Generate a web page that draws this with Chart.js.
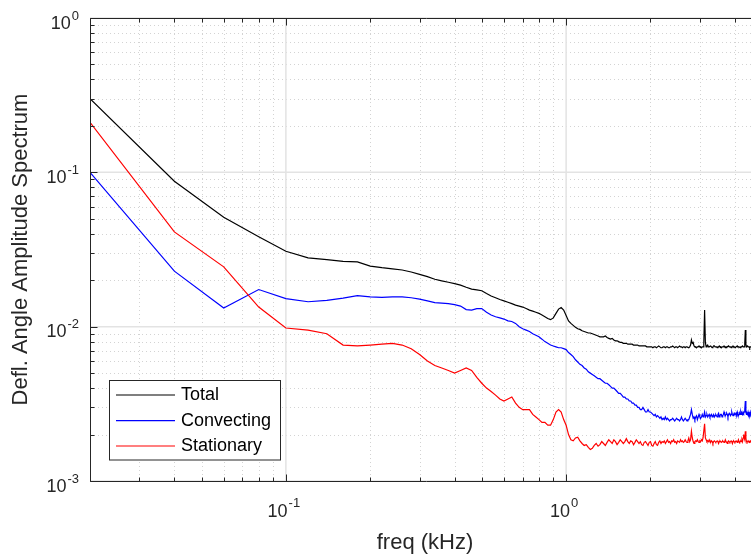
<!DOCTYPE html>
<html>
<head>
<meta charset="utf-8">
<script src="https://cdn.jsdelivr.net/npm/chart.js@4.4.1/dist/chart.umd.min.js"></script>
<style>
  html, body { margin: 0; padding: 0; background: #fff; overflow: hidden; }
  #wrap { width: 751px; height: 554px; overflow: hidden; position: relative; }
  canvas { display: block; }
</style>
</head>
<body>
<div id="wrap"><canvas id="c" width="775" height="554"></canvas></div>
<script>
// ---------- DATA ----------
const seriesNames = ['Total', 'Convecting', 'Stationary'];
const xTickExps = [-1, 0];
const yTickExps = [0, -1, -2, -3];
const xTitle = 'freq (kHz)';
const yTitle = 'Defl. Angle Amplitude Spectrum';

// frequency bins (kHz), 0.02 .. 4.60 step 0.02
const freq = [];
for (let k = 1; k <= 230; k++) freq.push(+(0.02 * k).toFixed(2));

const total = [
  0.300,0.0875,0.0511,0.0382,0.0308,0.0279,0.0272,0.0265,0.0263,0.0247,
  0.0241,0.0237,0.0233,0.0226,0.0218,0.0211,0.0203,0.0198,0.0194,0.0190,
  0.0186,0.0180,0.0175,0.0173,0.0171,0.0164,0.0158,0.0154,0.0150,0.0147,
  0.0144,0.0141,0.0138,0.0136,0.0134,0.0131,0.0128,0.0126,0.0124,0.0122,
  0.0119,0.0116,0.0113,0.0111,0.0114,0.0122,0.0130,0.0133,0.0128,0.0118,
  0.0109,0.0105,0.0102,0.0099,0.0097,0.0096,0.0094,0.0093,0.0092,0.0091,
  0.0091,0.0090,0.0089,0.0088,0.0087,0.0086,0.0086,0.0086,0.0087,0.0085,
  0.0084,0.0083,0.0084,0.0082,0.0081,0.0081,0.0080,0.0079,0.0079,0.0078,
  0.0078,0.0078,0.0077,0.0077,0.0077,0.0077,0.0076,0.0076,0.0076,0.0076,
  0.0075,0.0075,0.0075,0.0075,0.0075,0.0075,0.0074,0.0074,0.0074,0.0074,
  0.0074,0.0073,0.0074,0.0074,0.0073,0.0074,0.0075,0.0074,0.0073,0.0073,
  0.0074,0.0074,0.0073,0.0074,0.0074,0.0073,0.0073,0.0074,0.0074,0.0075,
  0.0074,0.0073,0.0074,0.0074,0.0073,0.0074,0.0075,0.0074,0.0074,0.0073,
  0.0074,0.0074,0.0073,0.0074,0.0074,0.0074,0.0073,0.0074,0.0076,0.0082,
  0.0078,0.0079,0.0075,0.0074,0.0074,0.0073,0.0074,0.0074,0.0075,0.0074,
  0.0074,0.0073,0.0074,0.0074,0.0079,0.0128,0.0079,0.0074,0.0075,0.0076,
  0.0074,0.0074,0.0074,0.0075,0.0074,0.0073,0.0074,0.0075,0.0075,0.0074,
  0.0074,0.0074,0.0073,0.0074,0.0074,0.0075,0.0074,0.0074,0.0073,0.0074,
  0.0074,0.0074,0.0075,0.0074,0.0074,0.0073,0.0074,0.0074,0.0074,0.0075,
  0.0074,0.0074,0.0074,0.0073,0.0074,0.0074,0.0075,0.0074,0.0074,0.0074,
  0.0073,0.0074,0.0074,0.0075,0.0074,0.0074,0.0074,0.0074,0.0073,0.0074,
  0.0074,0.0074,0.0075,0.0074,0.0074,0.0074,0.0078,0.0095,0.0077,0.0074,
  0.0074,0.0075,0.0074,0.0074,0.0074,0.0073,0.0074,0.0074,0.0074,0.0074
];

const convecting = [
  0.100,0.0229,0.0132,0.0174,0.0152,0.0145,0.0148,0.0153,0.0159,0.0156,
  0.0155,0.0156,0.0156,0.0154,0.0151,0.0147,0.0143,0.0142,0.0141,0.0139,
  0.0136,0.0129,0.0128,0.0131,0.0131,0.0124,0.0119,0.0116,0.0114,0.0112,
  0.0109,0.0108,0.0105,0.0100,0.0097,0.0095,0.0093,0.0090,0.0088,0.0086,
  0.0083,0.0080,0.0078,0.0076,0.0075,0.0074,0.0073,0.0073,0.0072,0.0071,
  0.0068,0.0066,0.0064,0.0061,0.0059,0.0057,0.0056,0.0054,0.0053,0.0051,
  0.0050,0.0049,0.0048,0.0047,0.0046,0.0046,0.0045,0.0044,0.0043,0.0043,
  0.0042,0.0041,0.0040,0.0040,0.0039,0.0038,0.0037,0.0037,0.0036,0.0035,
  0.0035,0.0034,0.0034,0.0033,0.0033,0.0032,0.0032,0.0031,0.0031,0.0030,
  0.0030,0.0029,0.0029,0.0030,0.0029,0.0028,0.0028,0.0029,0.0028,0.0028,
  0.00275,0.0027,0.00265,0.0027,0.0026,0.00265,0.0026,0.00255,0.0026,0.0025,
  0.00255,0.0025,0.0026,0.0025,0.00255,0.0025,0.00245,0.0025,0.0025,0.00255,
  0.0025,0.00245,0.0025,0.00255,0.0025,0.0025,0.00245,0.0025,0.0026,0.0025,
  0.00245,0.0025,0.00255,0.0025,0.00245,0.0025,0.0025,0.0026,0.0027,0.0029,
  0.0027,0.00255,0.0026,0.0025,0.0026,0.00265,0.0025,0.0026,0.0027,0.0026,
  0.00255,0.0026,0.0027,0.0026,0.00265,0.0028,0.0026,0.00265,0.0027,0.0026,
  0.00265,0.0027,0.0026,0.00265,0.0027,0.0026,0.00265,0.0027,0.0026,0.00265,
  0.0027,0.00265,0.0026,0.0027,0.00275,0.0026,0.00265,0.0027,0.0027,0.0026,
  0.00265,0.0027,0.0028,0.0027,0.00265,0.0027,0.00275,0.0027,0.0026,0.0027,
  0.00275,0.0027,0.00265,0.0027,0.0028,0.0027,0.00265,0.0027,0.00275,0.0027,
  0.0027,0.00275,0.0027,0.0028,0.0027,0.00265,0.0027,0.00275,0.0027,0.0028,
  0.0027,0.00275,0.0027,0.0028,0.00275,0.0028,0.0029,0.0033,0.0028,0.0027,
  0.00275,0.0027,0.0028,0.0027,0.00275,0.0027,0.0028,0.0027,0.0027,0.00275
];

const stationary = [
  0.211,0.0411,0.0244,0.0134,0.0098,0.0095,0.0090,0.0076,0.0075,0.0076,
  0.0077,0.0078,0.0076,0.0072,0.0066,0.0060,0.0056,0.0054,0.0052,0.0050,
  0.0052,0.0054,0.0052,0.0047,0.0043,0.0040,0.0038,0.0036,0.0034,0.0033,
  0.0034,0.0035,0.0032,0.0030,0.0029,0.0029,0.0029,0.0027,0.0026,0.0025,
  0.0024,0.0024,0.0023,0.0023,0.0025,0.0028,0.0029,0.0028,0.0025,0.0023,
  0.0020,0.00185,0.00182,0.0019,0.00192,0.00182,0.00175,0.0017,0.00172,0.00165,
  0.0016,0.00163,0.0017,0.00175,0.00168,0.00172,0.0018,0.00175,0.0017,0.00178,
  0.00185,0.0018,0.00175,0.00185,0.0018,0.00172,0.00178,0.00185,0.0018,0.00175,
  0.0018,0.00188,0.0018,0.00175,0.00182,0.0018,0.00172,0.00178,0.00185,0.0018,
  0.00175,0.0018,0.00172,0.0017,0.00178,0.0018,0.00175,0.0017,0.00178,0.0018,
  0.0017,0.00168,0.00175,0.0018,0.00172,0.0017,0.00178,0.00182,0.00175,0.0018,
  0.00178,0.00182,0.00175,0.0018,0.00185,0.00178,0.0018,0.00175,0.00182,0.0018,
  0.00185,0.00178,0.0018,0.00175,0.00182,0.0018,0.00178,0.00185,0.0018,0.00182,
  0.00178,0.0018,0.00185,0.0018,0.00178,0.00182,0.0019,0.0018,0.00185,0.0021,
  0.0019,0.0018,0.00175,0.0018,0.00182,0.0018,0.00185,0.0018,0.00178,0.00182,
  0.0018,0.00185,0.00182,0.0019,0.0019,0.00235,0.0019,0.00185,0.0018,0.00182,
  0.0018,0.00185,0.0018,0.00178,0.00182,0.0018,0.00175,0.0018,0.00182,0.0018,
  0.00178,0.0018,0.00182,0.0018,0.00175,0.0018,0.00182,0.0018,0.00178,0.0018,
  0.00182,0.0018,0.00178,0.0018,0.00185,0.0018,0.00178,0.00175,0.0018,0.00182,
  0.0018,0.00178,0.0018,0.00182,0.0018,0.00175,0.0018,0.00182,0.0018,0.00178,
  0.0018,0.00182,0.0018,0.00178,0.0018,0.00185,0.0018,0.00178,0.0018,0.00182,
  0.0018,0.00185,0.0018,0.0019,0.0020,0.0019,0.00185,0.0021,0.0019,0.0018,
  0.00178,0.0018,0.00182,0.0018,0.00178,0.0018,0.00182,0.0018,0.0018,0.00178
];

const seriesColors = ['#000000', '#0000ff', '#ff0000'];

// ---------- RENDERING ----------
const FONT = "'Liberation Sans', Arial, Helvetica, sans-serif";
const TXT = '#262626';

function logTicks(min, max) {
  const major = [], minor = [];
  const e0 = Math.floor(Math.log10(min)), e1 = Math.ceil(Math.log10(max));
  for (let e = e0; e <= e1; e++) {
    for (let m = 1; m <= 9; m++) {
      const v = +(m * Math.pow(10, e)).toPrecision(6);
      if (v < min * 0.9999 || v > max * 1.0001) continue;
      (m === 1 ? major : minor).push(v);
    }
  }
  return { major, minor };
}

function drawPow(ctx, exp, xRight, xCenter, baseY, expY) {
  ctx.font = '18px ' + FONT;
  const wb = ctx.measureText('10').width;
  ctx.font = '13px ' + FONT;
  const es = String(exp);
  const we = ctx.measureText(es).width;
  const w = wb + we + 1;
  let x0 = xRight != null ? xRight - w : xCenter - w / 2;
  ctx.textAlign = 'left';
  ctx.textBaseline = 'alphabetic';
  ctx.font = '18px ' + FONT;
  ctx.fillText('10', x0, baseY);
  ctx.font = '13px ' + FONT;
  ctx.fillText(es, x0 + wb + 1, expY);
}

const matlab = {
  id: 'matlab',
  beforeDatasetsDraw(chart) {
    const { ctx, chartArea: a, scales: { x, y } } = chart;
    const xt = logTicks(x.min, x.max), yt = logTicks(y.min, y.max);
    ctx.save();
    // minor grid (dotted)
    ctx.lineWidth = 1;
    ctx.strokeStyle = '#d3d3d3';
    ctx.setLineDash([1, 3]);
    ctx.beginPath();
    xt.minor.forEach(v => { const p = Math.round(x.getPixelForValue(v)) + 0.5; ctx.moveTo(p, a.top); ctx.lineTo(p, a.bottom); });
    yt.minor.forEach(v => { const p = Math.round(y.getPixelForValue(v)) + 0.5; ctx.moveTo(a.left, p); ctx.lineTo(a.right, p); });
    ctx.stroke();
    // major grid (solid)
    ctx.setLineDash([]);
    ctx.strokeStyle = '#e3e3e3';
    ctx.lineWidth = 1.5;
    ctx.beginPath();
    xt.major.forEach(v => { const p = x.getPixelForValue(v); ctx.moveTo(p, a.top); ctx.lineTo(p, a.bottom); });
    yt.major.forEach(v => { const p = y.getPixelForValue(v); ctx.moveTo(a.left, p); ctx.lineTo(a.right, p); });
    ctx.stroke();
    ctx.restore();
  },
  afterDatasetsDraw(chart) {
    const { ctx, chartArea: a, scales: { x, y } } = chart;
    const xt = logTicks(x.min, x.max), yt = logTicks(y.min, y.max);
    ctx.save();
    ctx.strokeStyle = TXT;
    ctx.lineWidth = 1;
    const L = Math.round(a.left) + 0.5, R = Math.round(a.right) + 0.5;
    const T = Math.round(a.top) + 0.5, B = Math.round(a.bottom) + 0.5;
    ctx.beginPath();
    ctx.rect(L, T, R - L, B - T);
    // ticks
    const tick = (vals, len) => {
      vals.x.forEach(v => { const p = Math.round(x.getPixelForValue(v)) + 0.5;
        ctx.moveTo(p, B); ctx.lineTo(p, B - len); ctx.moveTo(p, T); ctx.lineTo(p, T + len); });
      vals.y.forEach(v => { const p = Math.round(y.getPixelForValue(v)) + 0.5;
        ctx.moveTo(L, p); ctx.lineTo(L + len, p); ctx.moveTo(R, p); ctx.lineTo(R - len, p); });
    };
    tick({ x: xt.major, y: yt.major }, 7);
    tick({ x: xt.minor, y: yt.minor }, 4);
    ctx.stroke();

    // tick labels
    ctx.fillStyle = TXT;
    yTickExps.forEach(e => {
      const p = y.getPixelForValue(Math.pow(10, e));
      drawPow(ctx, e, 79, null, p + 10.8, p + 1.5);
    });
    xTickExps.forEach(e => {
      const p = x.getPixelForValue(Math.pow(10, e));
      drawPow(ctx, e, null, p - 2, 517, 507);
    });

    // axis titles
    ctx.font = '22px ' + FONT;
    ctx.textAlign = 'center';
    ctx.textBaseline = 'alphabetic';
    ctx.fillText(xTitle, (a.left + a.right) / 2 - 1, 549);
    ctx.save();
    ctx.translate(27, (a.top + a.bottom) / 2);
    ctx.rotate(-Math.PI / 2);
    ctx.fillText(yTitle, 0, 0);
    ctx.restore();

    // legend
    const bx = 109.5, by = 380.5, bw = 171, bh = 79.5;
    ctx.fillStyle = '#ffffff';
    ctx.fillRect(bx, by, bw, bh);
    ctx.strokeStyle = TXT;
    ctx.lineWidth = 1;
    ctx.strokeRect(bx, by, bw, bh);
    const rows = [395, 420.7, 446];
    chart.data.datasets.forEach((ds, i) => {
      ctx.strokeStyle = ds.borderColor;
      ctx.lineWidth = 1.2;
      ctx.beginPath();
      ctx.moveTo(116, rows[i]);
      ctx.lineTo(175, rows[i]);
      ctx.stroke();
      ctx.fillStyle = '#000000';
      ctx.font = '18px ' + FONT;
      ctx.textAlign = 'left';
      ctx.textBaseline = 'middle';
      ctx.fillText(ds.label, 181, rows[i] + 0.5);
    });
    ctx.restore();
  }
};

const allSeries = [total, convecting, stationary];
const datasets = allSeries.map((vals, i) => ({
  label: seriesNames[i],
  data: freq.map((f, j) => ({ x: f, y: vals[j] })),
  borderColor: seriesColors[i],
  borderWidth: 1.2,
  pointRadius: 0,
  tension: 0,
  fill: false,
  order: 3 - i
}));

new Chart(document.getElementById('c'), {
  type: 'line',
  data: { datasets },
  options: {
    responsive: false,
    animation: false,
    devicePixelRatio: 1,
    layout: { padding: { top: 18, right: 13, left: 0, bottom: 0 } },
    plugins: { legend: { display: false }, tooltip: { enabled: false } },
    scales: {
      x: {
        type: 'logarithmic', min: 0.02, max: 5,
        ticks: { display: false }, grid: { display: false }, border: { display: false },
        afterFit(s) { s.height = 73; }
      },
      y: {
        type: 'logarithmic', min: 0.001, max: 1,
        ticks: { display: false }, grid: { display: false }, border: { display: false },
        afterFit(s) { s.width = 90; }
      }
    }
  },
  plugins: [matlab]
});
</script>
</body>
</html>
